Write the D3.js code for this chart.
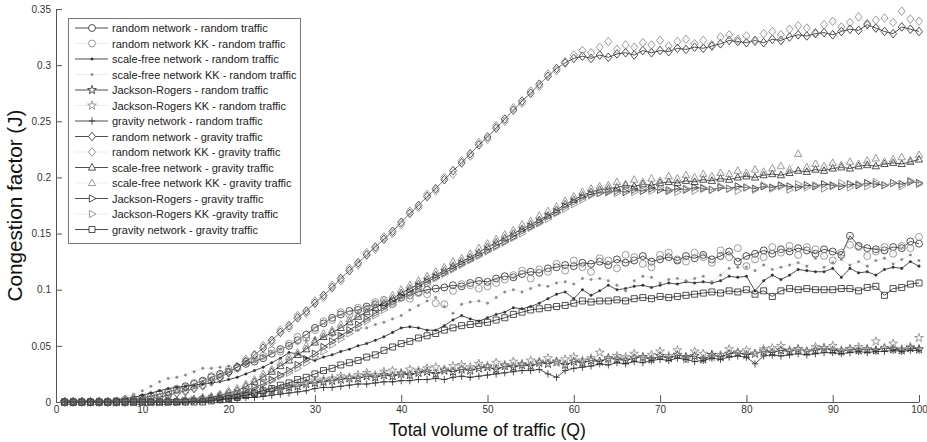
<!DOCTYPE html>
<html>
<head>
<meta charset="utf-8">
<script src="https://cdn.jsdelivr.net/npm/d3@7"></script>
<style>
  body { margin: 0; background: #fff; }
  svg { display: block; }
  text { font-family: "Liberation Sans", Arial, Helvetica, sans-serif; }
</style>
</head>
<body>
<svg id="chart" width="927" height="442"></svg>
<script>
// Total volume of traffic Q (x positions of every sample)
const volumeQ = d3.range(1, 101);

const xTickValues = [0, 10, 20, 30, 40, 50, 60, 70, 80, 90, 100];
const yTickValues = [0, 0.05, 0.1, 0.15, 0.2, 0.25, 0.3, 0.35];

const seriesNames = [
  "random network - random traffic",
  "random network KK - random traffic",
  "scale-free network - random traffic",
  "scale-free network KK - random traffic",
  "Jackson-Rogers - random traffic",
  "Jackson-Rogers KK - random traffic",
  "gravity network - random traffic",
  "random network - gravity traffic",
  "random network KK - gravity traffic",
  "scale-free network - gravity traffic",
  "scale-free network KK - gravity traffic",
  "Jackson-Rogers - gravity traffic",
  "Jackson-Rogers KK -gravity traffic",
  "gravity network - gravity traffic"
];

// Congestion factor J, one value per Q = 1..100
const randomNetRandomTraffic = [
0,0,0,0,0,0,0.001,0.002,0.002,0.004,
0.005,0.007,0.009,0.011,0.014,0.016,0.019,0.022,0.025,0.027,
0.031,0.034,0.036,0.039,0.043,0.047,0.050,0.055,0.060,0.066,
0.070,0.075,0.078,0.081,0.082,0.085,0.087,0.086,0.090,0.093,
0.095,0.098,0.100,0.101,0.102,0.104,0.103,0.106,0.108,0.107,
0.110,0.112,0.111,0.114,0.116,0.115,0.119,0.120,0.122,0.121,
0.124,0.123,0.125,0.122,0.127,0.124,0.126,0.130,0.125,0.127,
0.129,0.126,0.130,0.128,0.131,0.127,0.130,0.134,0.125,0.130,
0.132,0.135,0.132,0.136,0.134,0.137,0.135,0.132,0.136,0.134,
0.131,0.148,0.139,0.137,0.136,0.135,0.138,0.137,0.143,0.141];

const randomNetKKRandomTraffic = [
0,0,0,0,0,0,0.001,0.001,0.003,0.003,
0.006,0.008,0.008,0.012,0.013,0.017,0.018,0.023,0.024,0.029,
0.030,0.036,0.038,0.041,0.046,0.045,0.052,0.058,0.057,0.064,
0.072,0.073,0.080,0.078,0.084,0.083,0.089,0.091,0.087,0.095,
0.092,0.097,0.096,0.088,0.087,0.099,0.105,0.104,0.101,0.103,
0.106,0.109,0.113,0.117,0.110,0.118,0.116,0.123,0.117,0.126,
0.120,0.116,0.128,0.126,0.119,0.131,0.129,0.123,0.120,0.131,
0.133,0.127,0.125,0.133,0.129,0.124,0.135,0.129,0.137,0.121,
0.127,0.129,0.138,0.133,0.139,0.131,0.138,0.136,0.130,0.126,
0.133,0.140,0.138,0.130,0.134,0.138,0.132,0.139,0.137,0.147];

const scaleFreeRandomTraffic = [
0,0,0,0,0,0.001,0.002,0.003,0.004,0.006,
0.008,0.010,0.012,0.013,0.014,0.015,0.016,0.017,0.018,0.020,
0.022,0.025,0.028,0.031,0.035,0.039,0.044,0.043,0.039,0.037,
0.040,0.042,0.045,0.047,0.050,0.052,0.055,0.058,0.062,0.066,
0.067,0.066,0.064,0.064,0.068,0.073,0.077,0.074,0.072,0.075,
0.078,0.080,0.084,0.083,0.085,0.088,0.092,0.096,0.098,0.092,
0.100,0.095,0.099,0.104,0.100,0.101,0.103,0.104,0.102,0.104,
0.106,0.105,0.107,0.106,0.107,0.106,0.108,0.112,0.111,0.112,
0.099,0.108,0.113,0.109,0.113,0.118,0.117,0.116,0.116,0.119,
0.111,0.119,0.115,0.116,0.113,0.118,0.120,0.119,0.125,0.121];

const scaleFreeKKRandomTraffic = [
0,0,0,0,0.001,0.002,0.003,0.005,0.007,0.010,
0.014,0.018,0.021,0.022,0.024,0.027,0.030,0.030,0.031,0.032,
0.034,0.036,0.037,0.041,0.044,0.047,0.050,0.052,0.055,0.057,
0.058,0.059,0.060,0.062,0.064,0.066,0.069,0.071,0.074,0.077,
0.082,0.086,0.090,0.093,0.085,0.079,0.087,0.089,0.090,0.088,
0.093,0.098,0.100,0.098,0.101,0.104,0.103,0.106,0.107,0.105,
0.110,0.109,0.110,0.108,0.104,0.099,0.108,0.112,0.111,0.106,
0.109,0.110,0.108,0.110,0.112,0.107,0.113,0.119,0.120,0.120,
0.117,0.122,0.118,0.120,0.122,0.124,0.121,0.128,0.120,0.124,
0.127,0.122,0.125,0.121,0.126,0.128,0.123,0.127,0.131,0.126];

const jacksonRogersRandomTraffic = [
0,0,0,0,0,0,0,0,0,0,
0,0,0.001,0.001,0.001,0.002,0.002,0.003,0.003,0.004,
0.005,0.006,0.007,0.008,0.010,0.011,0.013,0.014,0.016,0.017,
0.018,0.019,0.020,0.021,0.021,0.023,0.022,0.024,0.023,0.025,
0.024,0.026,0.027,0.025,0.028,0.027,0.029,0.028,0.030,0.031,
0.029,0.032,0.031,0.033,0.032,0.035,0.034,0.036,0.033,0.036,
0.035,0.037,0.036,0.039,0.038,0.037,0.039,0.040,0.038,0.041,
0.039,0.042,0.040,0.041,0.038,0.042,0.040,0.043,0.044,0.042,
0.043,0.045,0.044,0.046,0.045,0.047,0.045,0.046,0.048,0.046,
0.045,0.047,0.046,0.047,0.046,0.048,0.047,0.046,0.048,0.047];

const jacksonRogersKKRandomTraffic = [
0,0,0,0,0,0,0,0,0,0,
0,0,0.001,0.001,0.002,0.002,0.003,0.003,0.004,0.005,
0.006,0.007,0.008,0.010,0.011,0.012,0.014,0.016,0.017,0.019,
0.020,0.021,0.023,0.022,0.024,0.026,0.024,0.027,0.028,0.026,
0.029,0.028,0.030,0.031,0.029,0.032,0.033,0.031,0.034,0.032,
0.035,0.033,0.036,0.034,0.037,0.036,0.039,0.035,0.038,0.040,
0.037,0.039,0.044,0.038,0.041,0.040,0.043,0.039,0.042,0.045,
0.041,0.046,0.038,0.045,0.043,0.040,0.042,0.047,0.044,0.046,
0.043,0.047,0.048,0.050,0.046,0.047,0.045,0.049,0.048,0.050,
0.046,0.047,0.049,0.046,0.054,0.048,0.052,0.047,0.049,0.057];

const gravityNetRandomTraffic = [
0,0,0,0,0,0,0,0,0,0,
0,0,0,0,0,0.001,0.001,0.002,0.002,0.003,
0.003,0.004,0.004,0.005,0.006,0.007,0.008,0.009,0.010,0.012,
0.013,0.013,0.014,0.015,0.016,0.016,0.017,0.018,0.018,0.019,
0.019,0.020,0.020,0.021,0.020,0.022,0.023,0.022,0.023,0.024,
0.025,0.026,0.027,0.028,0.028,0.029,0.025,0.022,0.028,0.030,
0.031,0.032,0.034,0.033,0.035,0.034,0.036,0.035,0.037,0.038,
0.037,0.039,0.038,0.036,0.037,0.039,0.038,0.040,0.041,0.040,
0.034,0.041,0.042,0.041,0.042,0.043,0.042,0.043,0.044,0.044,
0.043,0.044,0.045,0.044,0.045,0.045,0.046,0.045,0.046,0.046];

const randomNetGravityTraffic = [
0,0,0,0,0,0,0,0,0.001,0.002,
0.003,0.004,0.006,0.008,0.010,0.012,0.015,0.018,0.022,0.026,
0.031,0.036,0.042,0.048,0.055,0.062,0.068,0.075,0.081,0.088,
0.095,0.102,0.110,0.117,0.124,0.131,0.138,0.145,0.152,0.160,
0.168,0.175,0.183,0.190,0.198,0.206,0.213,0.221,0.229,0.236,
0.244,0.252,0.260,0.268,0.275,0.283,0.290,0.297,0.302,0.306,
0.308,0.306,0.309,0.307,0.310,0.311,0.309,0.313,0.311,0.313,
0.312,0.315,0.314,0.316,0.315,0.317,0.319,0.322,0.321,0.320,
0.322,0.320,0.323,0.322,0.325,0.327,0.326,0.328,0.329,0.327,
0.330,0.332,0.331,0.336,0.333,0.330,0.328,0.334,0.332,0.330];

const randomNetKKGravityTraffic = [
0,0,0,0,0,0,0,0,0.001,0.001,
0.003,0.004,0.005,0.008,0.009,0.013,0.014,0.019,0.021,0.027,
0.030,0.038,0.041,0.050,0.053,0.064,0.066,0.077,0.079,0.090,
0.093,0.104,0.108,0.119,0.122,0.133,0.136,0.147,0.150,0.158,
0.170,0.173,0.185,0.188,0.200,0.203,0.215,0.219,0.231,0.234,
0.246,0.250,0.262,0.266,0.277,0.281,0.292,0.295,0.303,0.309,
0.313,0.311,0.316,0.321,0.314,0.318,0.316,0.320,0.318,0.322,
0.317,0.321,0.323,0.319,0.322,0.318,0.325,0.327,0.323,0.326,
0.321,0.328,0.330,0.327,0.332,0.335,0.333,0.329,0.336,0.339,
0.334,0.338,0.343,0.337,0.340,0.342,0.338,0.348,0.341,0.339];

const scaleFreeGravityTraffic = [
0,0,0,0,0,0,0,0,0,0,
0,0,0,0,0.001,0.002,0.003,0.004,0.006,0.008,
0.010,0.014,0.018,0.022,0.027,0.032,0.037,0.042,0.047,0.053,
0.058,0.062,0.066,0.071,0.076,0.080,0.084,0.088,0.092,0.097,
0.101,0.105,0.109,0.113,0.117,0.121,0.125,0.129,0.133,0.138,
0.142,0.146,0.150,0.154,0.158,0.162,0.166,0.171,0.176,0.180,
0.184,0.187,0.189,0.190,0.191,0.193,0.192,0.194,0.193,0.195,
0.196,0.195,0.197,0.196,0.198,0.197,0.199,0.198,0.200,0.201,
0.200,0.202,0.203,0.202,0.204,0.206,0.205,0.207,0.206,0.208,
0.209,0.208,0.210,0.211,0.210,0.212,0.213,0.212,0.214,0.216];

const scaleFreeKKGravityTraffic = [
0,0,0,0,0,0,0,0,0,0,
0,0,0,0.001,0.001,0.002,0.004,0.005,0.007,0.010,
0.012,0.016,0.020,0.025,0.029,0.035,0.040,0.044,0.050,0.055,
0.061,0.064,0.069,0.074,0.078,0.083,0.087,0.091,0.095,0.100,
0.104,0.108,0.112,0.116,0.120,0.125,0.128,0.132,0.137,0.141,
0.145,0.149,0.153,0.158,0.161,0.166,0.170,0.174,0.179,0.183,
0.187,0.190,0.192,0.193,0.196,0.194,0.198,0.196,0.199,0.197,
0.201,0.199,0.202,0.200,0.203,0.201,0.204,0.203,0.206,0.204,
0.207,0.205,0.208,0.210,0.207,0.221,0.209,0.212,0.210,0.213,
0.211,0.214,0.212,0.215,0.217,0.214,0.216,0.218,0.215,0.220];

const jacksonRogersGravityTraffic = [
0,0,0,0,0,0,0,0,0,0,
0,0,0,0,0.001,0.001,0.002,0.003,0.004,0.006,
0.008,0.010,0.013,0.016,0.020,0.024,0.028,0.033,0.038,0.043,
0.049,0.054,0.059,0.064,0.069,0.074,0.079,0.084,0.089,0.094,
0.098,0.103,0.107,0.111,0.115,0.119,0.123,0.127,0.131,0.135,
0.139,0.143,0.147,0.152,0.156,0.160,0.165,0.169,0.174,0.178,
0.182,0.185,0.186,0.187,0.188,0.187,0.189,0.188,0.190,0.189,
0.188,0.190,0.189,0.191,0.190,0.189,0.191,0.190,0.192,0.191,
0.190,0.192,0.191,0.193,0.192,0.191,0.193,0.192,0.194,0.193,
0.192,0.194,0.193,0.195,0.194,0.193,0.195,0.194,0.196,0.195];

const jacksonRogersKKGravityTraffic = [
0,0,0,0,0,0,0,0,0,0,
0,0,0,0,0.001,0.002,0.002,0.003,0.005,0.006,
0.008,0.011,0.014,0.017,0.019,0.023,0.026,0.030,0.035,0.040,
0.045,0.051,0.056,0.061,0.066,0.072,0.077,0.082,0.087,0.092,
0.096,0.101,0.105,0.110,0.114,0.118,0.122,0.126,0.130,0.134,
0.138,0.142,0.146,0.150,0.155,0.159,0.163,0.168,0.172,0.176,
0.180,0.184,0.186,0.188,0.186,0.189,0.187,0.190,0.188,0.191,
0.189,0.187,0.190,0.188,0.191,0.189,0.192,0.190,0.188,0.191,
0.189,0.193,0.190,0.192,0.189,0.194,0.191,0.193,0.190,0.192,
0.195,0.191,0.194,0.192,0.196,0.193,0.195,0.192,0.197,0.194];

const gravityNetGravityTraffic = [
0,0,0,0,0,0,0,0,0,0,
0,0,0,0,0,0,0,0.001,0.002,0.003,
0.004,0.006,0.008,0.010,0.012,0.015,0.017,0.020,0.022,0.025,
0.028,0.030,0.033,0.035,0.037,0.040,0.042,0.046,0.049,0.052,
0.054,0.057,0.059,0.061,0.064,0.066,0.068,0.069,0.070,0.071,
0.073,0.075,0.078,0.080,0.082,0.083,0.084,0.085,0.086,0.088,
0.090,0.089,0.090,0.090,0.091,0.090,0.092,0.093,0.092,0.094,
0.093,0.094,0.095,0.096,0.097,0.098,0.097,0.099,0.098,0.100,
0.096,0.099,0.094,0.099,0.101,0.100,0.101,0.100,0.100,0.100,
0.101,0.101,0.099,0.102,0.103,0.095,0.101,0.102,0.105,0.106];

const seriesValues = [
  randomNetRandomTraffic, randomNetKKRandomTraffic,
  scaleFreeRandomTraffic, scaleFreeKKRandomTraffic,
  jacksonRogersRandomTraffic, jacksonRogersKKRandomTraffic,
  gravityNetRandomTraffic,
  randomNetGravityTraffic, randomNetKKGravityTraffic,
  scaleFreeGravityTraffic, scaleFreeKKGravityTraffic,
  jacksonRogersGravityTraffic, jacksonRogersKKGravityTraffic,
  gravityNetGravityTraffic
];

// ---- drawing styles (marker shape, KK runs are drawn lighter) ----
const markerShapes = ["circle","circle","dot","dot","star","star","plus",
  "diamond","diamond","triangle","triangle","rtriangle","rtriangle","square"];
const isKK = [false,true,false,true,false,true,false,false,true,false,true,false,true,false];

const markerPath = {
  circle:    d3.symbol(d3.symbolCircle, 38)(),
  diamond:   "M0,-4.3L3.5,0L0,4.3L-3.5,0Z",
  triangle:  "M0,-4L3.6,2.6L-3.6,2.6Z",
  rtriangle: "M4,0L-2.6,-3.6L-2.6,3.6Z",
  square:    "M-3,-3H3V3H-3Z",
  star:      d3.symbol(d3.symbolStar, 24)(),
  plus:      "M-3.2,0H3.2M0,-3.6V3.6",
  dot:       d3.symbol(d3.symbolCircle, 5)()
};

const plot = { left: 56, right: 919, top: 9, bottom: 402 };

const svg = d3.select("#chart");

const x = d3.scaleLinear().domain([0, 100]).range([plot.left, plot.right]);
const y = d3.scaleLinear().domain([0, 0.35]).range([plot.bottom, plot.top]);

function lineColor(i) { return isKK[i] ? "#d6d6d6" : "#2e2e2e"; }
function markColor(i) { return isKK[i] ? "#8a8a8a" : "#333"; }

// axes (MATLAB style: ticks pointing inward, no box)
const xAxis = d3.axisBottom(x).tickValues(xTickValues).tickFormat(d => String(d))
  .tickSizeInner(-7).tickSizeOuter(0).tickPadding(4);
const yAxis = d3.axisLeft(y).tickValues(yTickValues).tickFormat(d => String(d))
  .tickSizeInner(-6).tickSizeOuter(0).tickPadding(5);

const gx = svg.append("g").attr("transform", `translate(0,${plot.bottom})`).call(xAxis);
const gy = svg.append("g").attr("transform", `translate(${plot.left},0)`).call(yAxis);
[gx, gy].forEach(g => {
  g.select(".domain").attr("stroke", "#555").attr("stroke-width", 1);
  g.selectAll(".tick line").attr("stroke", "#555").attr("stroke-width", 1);
  g.selectAll(".tick text").attr("fill", "#333").style("font-size", "10px")
    .style("font-family", "'Liberation Sans', Arial, sans-serif");
});

// series
const line = d3.line().x((d, k) => x(volumeQ[k])).y(d => y(d));
const series = svg.append("g");
seriesValues.forEach((vals, i) => {
  const g = series.append("g");
  g.append("path").datum(vals).attr("d", line)
    .attr("fill", "none").attr("stroke", lineColor(i))
    .attr("stroke-width", isKK[i] ? 0.5 : 0.85);
  const shape = markerShapes[i];
  g.selectAll("path.m").data(vals).join("path").attr("class", "m")
    .attr("d", markerPath[shape])
    .attr("transform", (d, k) => `translate(${x(volumeQ[k])},${y(d)})`)
    .attr("fill", shape === "dot" ? markColor(i) : "none")
    .attr("stroke", markColor(i))
    .attr("stroke-width", shape === "dot" ? 0.4 : 0.85);
});

// axis titles
svg.append("text")
  .attr("x", x(50)).attr("y", 436)
  .attr("text-anchor", "middle")
  .attr("textLength", 197).attr("lengthAdjust", "spacingAndGlyphs")
  .style("font-size", "19px").attr("fill", "#111")
  .text("Total volume of traffic (Q)");

svg.append("text")
  .attr("transform", `translate(22,${(plot.top + plot.bottom) / 2}) rotate(-90)`)
  .attr("text-anchor", "middle")
  .attr("textLength", 192).attr("lengthAdjust", "spacingAndGlyphs")
  .style("font-size", "20px").attr("fill", "#111")
  .text("Congestion factor (J)");

// legend
const legend = svg.append("g");
legend.append("rect").attr("x", 68.5).attr("y", 18.5).attr("width", 232).attr("height", 225)
  .attr("fill", "#fff").attr("stroke", "#777").attr("stroke-width", 1);
seriesNames.forEach((name, i) => {
  const ry = 28 + i * 15.5;
  const row = legend.append("g").attr("transform", `translate(0,${ry})`);
  row.append("line").attr("x1", 75).attr("x2", 108).attr("y1", 0).attr("y2", 0)
    .attr("stroke", lineColor(i)).attr("stroke-width", isKK[i] ? 0.5 : 0.85);
  const shape = markerShapes[i];
  row.append("path").attr("d", markerPath[shape]).attr("transform", "translate(92,0)")
    .attr("fill", shape === "dot" ? markColor(i) : "#fff")
    .attr("stroke", markColor(i)).attr("stroke-width", shape === "dot" ? 0.4 : 0.85);
  row.append("text").attr("x", 112).attr("y", 4)
    .style("font-size", "11px").attr("fill", "#222").text(name);
});
</script>
</body>
</html>
